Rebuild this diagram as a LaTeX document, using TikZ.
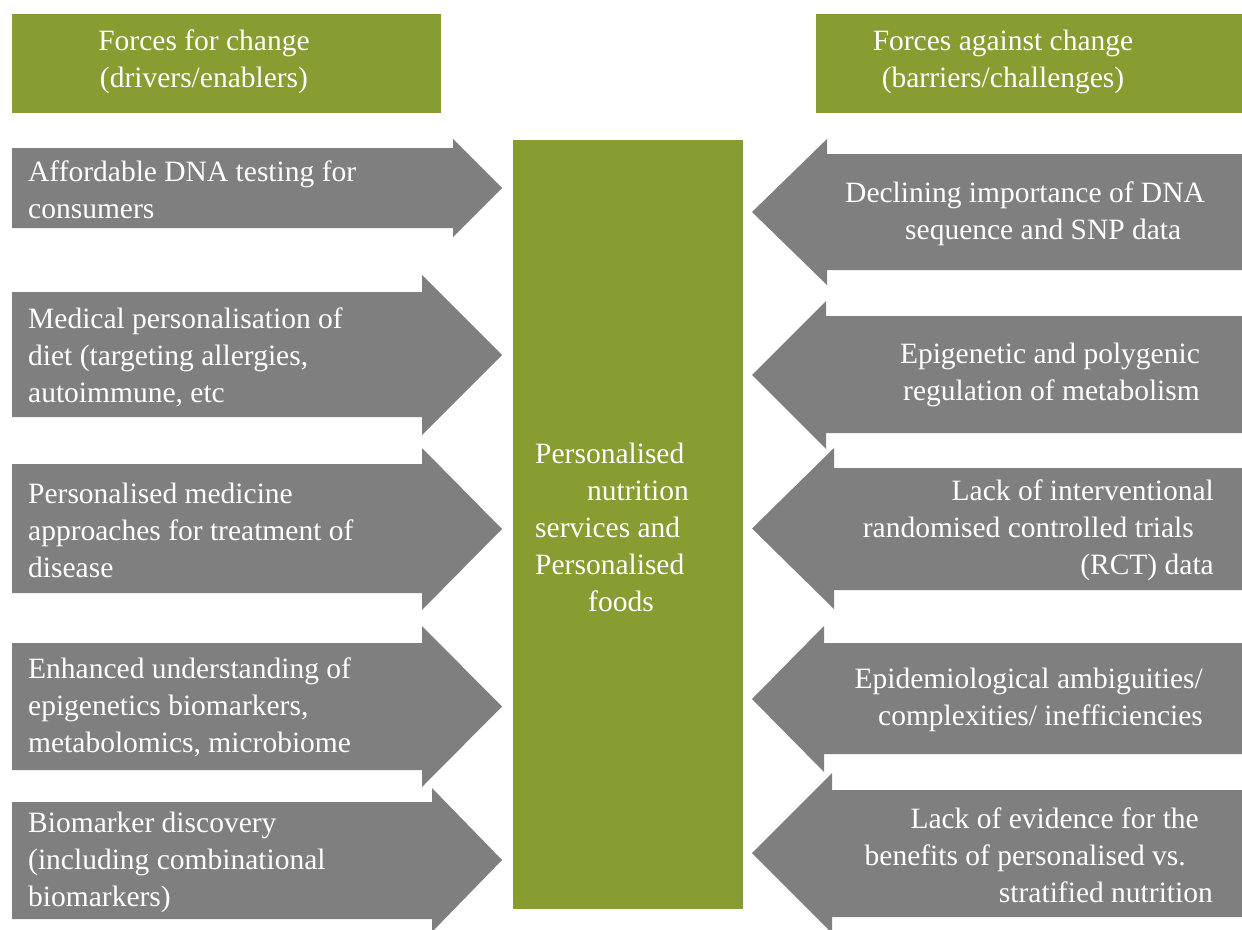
\documentclass[tikz,border=0pt]{standalone}
\usepackage{fontspec}
\setmainfont{Liberation Serif}
\definecolor{forcegreen}{RGB}{135,156,49}
\definecolor{forcegray}{RGB}{127,127,127}
\begin{document}
\begin{tikzpicture}[x=1pt,y=-1pt,
    every node/.style={font=\fontsize{29.5}{37}\selectfont, text=white, inner sep=0pt},
    greenbox/.style={fill=forcegreen, anchor=north west},
    drivertext/.style={anchor=west, align=left},
    barriertext/.style={anchor=east, align=right}]
  \useasboundingbox (0,0) rectangle (1242,929);
  % Headers
  \node[greenbox, minimum width=429pt, minimum height=99pt] (forbox) at (12,14) {};
  \node[align=center] (fortext) at (204,62) {Forces for change\\(drivers/enablers)};
  \node[greenbox, minimum width=426pt, minimum height=99pt] (againstbox) at (816,14) {};
  \node[align=center] (againsttext) at (1003,62) {Forces against change\\(barriers/challenges)};
  % Centre
  \node[greenbox, minimum width=230pt, minimum height=769pt] (core) at (513,140) {};
  \node[align=left, anchor=west] (coretext) at (535,527) {Personalised\\\hspace*{52pt}nutrition\\services and\\Personalised\\\hspace*{53pt}foods};
  % Driver arrows
  \foreach \yt/\yb/\hx/\ht/\hb in {148/228/453/139/237, 292/417/422/275/435,
      464/593/422/448/610, 643/770/422/626/787, 802/919/432/788/932}
    \fill[forcegray] (12,\yt) -- (\hx,\yt) -- (\hx,\ht) -- (502,{(\ht+\hb)/2})
      -- (\hx,\hb) -- (\hx,\yb) -- (12,\yb) -- cycle;
  % Barrier arrows
  \foreach \yt/\yb/\hx/\ht/\hb in {154/270/827/139/285, 316/433/826/301/449,
      468/590/834/448/609, 643/754/824/626/772, 790/917/832/773/933}
    \fill[forcegray] (1242,\yt) -- (\hx,\yt) -- (\hx,\ht) -- (752,{(\ht+\hb)/2})
      -- (\hx,\hb) -- (\hx,\yb) -- (1242,\yb) -- cycle;
  % Driver labels
  \node[drivertext] (driver1) at (28,190) {Affordable DNA testing for\\consumers};
  \node[drivertext] (driver2) at (28,357) {Medical personalisation of\\diet (targeting allergies,\\autoimmune, etc};
  \node[drivertext] (driver3) at (28,530) {Personalised medicine\\approaches for treatment of\\disease};
  \node[drivertext] (driver4) at (28,707) {Enhanced understanding of\\epigenetics biomarkers,\\metabolomics, microbiome};
  \node[drivertext] (driver5) at (28,862) {Biomarker discovery\\(including combinational\\biomarkers)};
  % Barrier labels
  \node[anchor=west, align=left] (barrier1) at (845,214) {Declining importance of DNA\\\hspace*{60pt}sequence and SNP data};
  \node[barriertext] (barrier2) at (1200,375) {Epigenetic and polygenic\\regulation of metabolism};
  \node[barriertext] (barrier3) at (1214,530) {Lack of interventional\\randomised controlled trials\rule{20pt}{0pt}\\(RCT) data};
  \node[barriertext] (barrier4) at (1203,700) {Epidemiological ambiguities/\\complexities/ inefficiencies};
  \node[barriertext] (barrier5) at (1213,855) {Lack of evidence for the\rule{14pt}{0pt}\\benefits of personalised vs.\rule{27pt}{0pt}\\stratified nutrition};
\end{tikzpicture}
\end{document}
